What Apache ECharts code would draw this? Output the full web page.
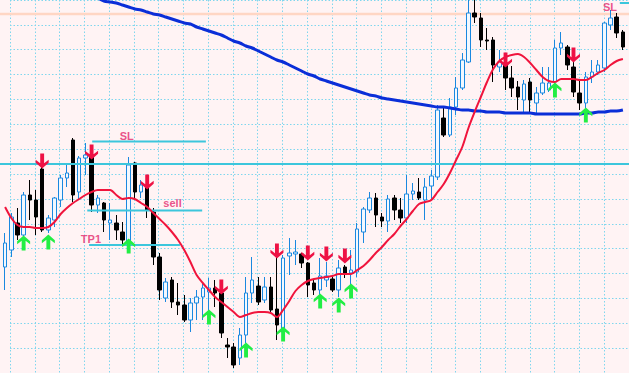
<!DOCTYPE html>
<html><head><meta charset="utf-8">
<script src="https://cdn.jsdelivr.net/npm/echarts@6/dist/echarts.min.js"></script>
<style>html,body{margin:0;padding:0;background:#fff3f4}#c{width:629px;height:373px}</style>
</head><body><div id="c"></div>
<script>
// OHLC per bar: [open, close, low, high] (price units)
const candles = [
[106,130,83,140],[123,156,116,160],[150,138,133,165],[138,178,123,181],[178,173,153,193],
[173,156,138,183],[204,143,141,206],[143,155,140,158],[153,175,146,176],[173,195,166,198],
[195,200,186,208],[233,178,171,235],[181,215,173,217],[215,218,198,230],[218,168,161,220],
[168,175,160,178],[170,153,141,171],[150,153,133,170],[150,143,133,158],[141,133,128,151],
[130,208,121,216],[210,181,175,211],[181,188,175,193],[188,163,155,190],[161,116,108,165],
[116,83,73,120],[75,91,71,95],[93,71,65,96],[71,68,58,90],[68,53,51,78],
[53,70,41,75],[70,76,53,83],[76,85,53,90],[81,85,56,95],[85,80,66,93],
[80,40,35,86],[28,26,15,35],[26,8,5,30],[15,38,8,45],[38,80,30,96],
[80,93,70,116],[87,71,68,96],[73,86,70,96],[86,63,60,96],[64,48,33,116],
[41,115,38,118],[117,120,98,135],[119,121,108,133],[119,110,105,120],[110,88,76,111],
[90,83,78,93],[83,97,78,115],[93,97,86,111],[94,83,81,97],[83,105,76,113],
[106,100,95,108],[100,103,88,123],[101,144,96,150],[141,164,130,166],[163,175,160,181],
[175,158,146,180],[156,152,146,160],[152,174,141,178],[175,163,153,178],[163,155,150,175],
[155,179,150,198],[179,182,173,190],[181,175,173,195],[173,186,153,195],[187,197,173,203],
[196,263,193,268],[255,238,236,266],[238,266,236,275],[266,285,258,296],[285,313,283,320],
[311,360,310,378],[360,356,350,378],[355,333,326,360],[333,332,323,345],[333,308,291,336],
[306,311,301,323],[309,295,283,316],[295,285,276,307],[286,276,263,292],[273,289,261,293],
[291,273,261,295],[270,280,258,286],[280,290,278,306],[283,290,281,306],[291,325,285,333],
[325,330,318,341],[326,308,303,328],[306,281,276,311],[280,270,263,293],[270,296,265,301],
[296,301,290,313],[301,308,298,313],[305,350,301,351],[348,355,343,363],[356,340,335,360],
[341,326,323,343]
];
// fast moving average (red)
const maFast = [
166,155,148,146,146,145,145,146,151,159,165,170,174,178,181,183,183,183,178,174,
175,174,170,166,160,154,148,141,133,123,111,98,90,83,76,71,66,61,56,58,
60,61,61,60,56,63,72,82,88,92,94,95,96,97,99,99,99,103,107,113,
120,126,133,139,147,154,162,169,171,173,181,189,200,213,226,245,261,276,291,304,
312,316,318,319,316,310,303,296,292,291,294,294,294,293,293,296,300,303,308,312,
314
];
// slow moving average (blue)
const maSlow = [
null,null,null,null,null,null,null,null,null,null,null,null,null,null,377,375,372,371,370,368,
366,364,363,361,359,358,356,354,352,350,349,346,344,342,340,338,335,332,330,327,
325,322,319,316,313,311,308,305,302,299,297,294,292,290,288,286,284,282,280,278,
277,275,274,273,272,271,270,269,268,267,266,266,265,264,263,263,262,262,261,261,
261,260,260,260,260,260,259,259,259,259,259,259,259,259,260,260,261,261,262,262,
263
];
// signal arrows: [bar index, price]
const sellSignals = [[6,212],[14,221],[23,191],[35,86],[44,122],[49,120],[52,119],[55,117],[81,313],[92,318]];
const buySignals = [[3,130],[7,131],[20,127],[33,56],[39,23],[45,39],[51,72],[54,68],[56,82],[89,283],[94,258]];
// trade levels: [price, from bar, to bar]
const levels = [[209,-1,102],[231.5,14.1,32.5],[162.5,13.3,31.9],[128,13.6,28.3],[370,99.5,102]];
const topLine = [[-1,359],[102,359]];
const levelTexts = ['SL','sell','TP1','SL'];
const levelTextPos = [[19.7,237],[27.1,170.5],[13.9,134.5],[97.9,366]];

const bars = candles.map((_, i) => String(i + 1));
const gridCols = Array.from({length: 26}, (_, i) => i);
const gridRows = Array.from({length: 16}, (_, i) => i);

const hidden = {show:false};
const chart = echarts.init(document.getElementById('c'), null, {renderer:'svg'});
const upArrow = 'path://M5,0 L10,5 L10,7.5 L6.5,4.5 L6.5,13 L3.5,13 L3.5,4.5 L0,7.5 L0,5 Z';
const downArrow = 'path://M3.5,0 L6.5,0 L6.5,8.5 L10,5.5 L10,8 L5,13 L0,8 L0,5.5 L3.5,8.5 Z';
const dotted = {show:true, interval:0, lineStyle:{color:'#7fd6ee', type:[1.5,2], width:1}};

const series = [
  {type:'candlestick', xAxisIndex:0, yAxisIndex:0, data:candles, barWidth:4, z:3,
   itemStyle:{color:'#f2f8ff', borderColor:'#1a88e0', color0:'#000000', borderColor0:'#000000', borderWidth:1}},
  {type:'line', xAxisIndex:1, yAxisIndex:1, data:topLine, symbol:'none', z:2,
   lineStyle:{color:'#ffd6c4', width:2.5}},
];
levels.forEach(l => series.push({type:'line', xAxisIndex:1, yAxisIndex:1, symbol:'none', z:4,
  data:[[l[1], l[0]],[l[2], l[0]]], lineStyle:{color:'#3cc6dc', width:2}}));
series.push(
  {type:'line', xAxisIndex:0, yAxisIndex:0, data:maSlow, symbol:'none', smooth:0.3, z:5,
   lineStyle:{color:'#0a2ed8', width:3}},
  {type:'line', xAxisIndex:0, yAxisIndex:0, data:maFast, symbol:'none', smooth:0.3, z:6,
   lineStyle:{color:'#f0143c', width:2}},
  {type:'scatter', xAxisIndex:1, yAxisIndex:1, data:sellSignals, symbol:downArrow, symbolSize:[13,15], z:7,
   itemStyle:{color:'#ee1144', opacity:1}},
  {type:'scatter', xAxisIndex:1, yAxisIndex:1, data:buySignals, symbol:upArrow, symbolSize:[13,15], z:7,
   itemStyle:{color:'#22ee44', opacity:1}},
  {type:'scatter', xAxisIndex:1, yAxisIndex:1, symbolSize:0, z:8,
   data: levelTexts.map((t, i) => ({name:t, value:levelTextPos[i]})),
   label:{show:true, position:'inside', formatter:p => p.name, color:'#e4286c',
          fontFamily:'Liberation Sans, Arial, sans-serif', fontSize:11, fontWeight:'bold'}}
);

chart.setOption({
  backgroundColor:'#fff3f4',
  animation:false,
  grid:[
    {left:2, right:3, top:0, bottom:0},
    {left:0, right:0, top:0, bottom:0},
    {left:10, right:-4.25, top:-13, bottom:-11.5}
  ],
  xAxis:[
    {type:'category', gridIndex:0, data:bars, show:false},
    {type:'value', gridIndex:1, min:-0.8237, max:100.9856, show:false},
    {type:'category', gridIndex:2, data:gridCols, boundaryGap:false,
     axisLine:hidden, axisTick:hidden, axisLabel:hidden, splitLine:dotted}
  ],
  yAxis:[
    {type:'value', gridIndex:0, min:0, max:373, show:false},
    {type:'value', gridIndex:1, min:0, max:373, show:false},
    {type:'category', gridIndex:2, data:gridRows, boundaryGap:false,
     axisLine:hidden, axisTick:hidden, axisLabel:hidden, splitLine:dotted}
  ],
  series:series
});
</script>
</body></html>
